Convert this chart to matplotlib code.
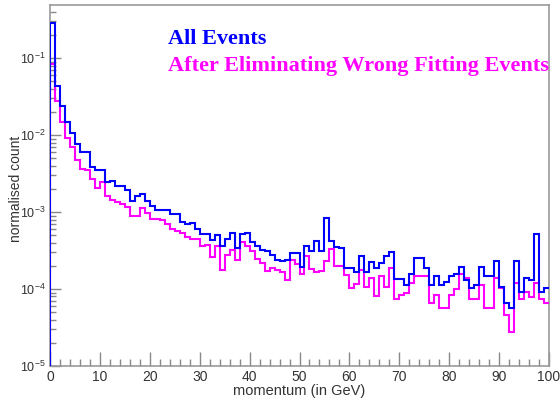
import matplotlib
matplotlib.use('Agg')
import matplotlib.pyplot as plt
import numpy as np
from matplotlib.ticker import LogLocator, MultipleLocator, LogFormatterSciNotation, NullFormatter

plt.rcParams['font.family'] = ['Liberation Sans', 'DejaVu Sans']

# 1 GeV bins from 0 to 100
edges = np.arange(0, 101, 1)

all_events = [
    0.29, 0.044, 0.0236, 0.0146, 0.0108, 0.0076, 0.0060, 0.0060, 0.0039, 0.0035,
    0.0035, 0.00245, 0.0025, 0.00216, 0.00216, 0.00195, 0.00141, 0.0016, 0.0017, 0.00138,
    0.00119, 0.00107, 0.00107, 0.00107, 0.00095, 0.00094, 0.00074, 0.00070, 0.00072, 0.00061,
    0.00052, 0.00052, 0.00044, 0.00051, 0.00036, 0.00045, 0.00054, 0.00034, 0.00052, 0.00054,
    0.00041, 0.00036, 0.00032, 0.00031, 0.00028, 0.00024, 0.00023, 0.00024, 0.00029, 0.00029,
    1.95e-4, 3.67e-4, 3.13e-4, 4.2e-4, 3.13e-4, 8.4e-4, 4.2e-4, 3.56e-4, 3.46e-4, 1.85e-4,
    1.85e-4, 1.68e-4, 2.72e-4, 1.68e-4, 2.27e-4, 1.85e-4, 2.16e-4, 2.72e-4, 3.06e-4, 1.37e-4,
    1.37e-4, 1.12e-4, 1.55e-4, 2.56e-4, 2.51e-4, 1.85e-4, 1.12e-4, 1.49e-4, 1.12e-4, 1.24e-4,
    1.49e-4, 1.55e-4, 1.93e-4, 1.31e-4, 1.04e-4, 1.12e-4, 1.93e-4, 1.49e-4, 1.49e-4, 2.34e-4,
    1.07e-4, 6.5e-5, 5.6e-5, 2.34e-4, 9.2e-5, 1.40e-4, 1.31e-4, 5.2e-4, 9.2e-5, 1.02e-4,
]

after_cut = [
    0.084, 0.028, 0.0146, 0.0093, 0.0069, 0.0048, 0.0036, 0.0035, 0.00265, 0.00206,
    0.00244, 0.0016, 0.00145, 0.00134, 0.00128, 0.00116, 0.00088, 0.00088, 0.00113, 0.00097,
    0.00081, 0.00081, 0.00078, 0.00071, 0.00061, 0.00057, 0.00054, 0.00047, 0.00045, 0.00045,
    0.00036, 0.00037, 0.00026, 0.00036, 0.000177, 0.00028, 0.00032, 0.00024, 0.00041, 0.00036,
    0.00031, 0.000245, 0.000215, 0.000171, 0.000189, 0.000177, 0.000164, 0.000131, 0.00024, 0.00021,
    1.55e-4, 2.72e-4, 1.82e-4, 1.68e-4, 1.71e-4, 2.31e-4, 3.32e-4, 2.01e-4, 2.01e-4, 1.52e-4,
    1.04e-4, 1.15e-4, 1.77e-4, 1.07e-4, 1.40e-4, 8.15e-5, 1.49e-4, 1.07e-4, 1.89e-4, 7.5e-5,
    8.3e-5, 8.75e-5, 1.18e-4, 1.49e-4, 1.49e-4, 1.49e-4, 6.5e-5, 8.3e-5, 5.6e-5, 5.6e-5,
    8.3e-5, 1.0e-4, 1.55e-4, 1.40e-4, 7.5e-5, 7.5e-5, 1.12e-4, 5.6e-5, 5.6e-5, 1.40e-4,
    1.04e-4, 4.65e-5, 2.76e-5, 1.18e-4, 7.5e-5, 9.2e-5, 7.9e-5, 1.18e-4, 7.5e-5, 6.5e-5,
]

label_all = 'All Events'
label_cut = 'After Eliminating Wrong Fitting Events'

ymin, ymax = 1e-5, 0.49

fig = plt.figure(figsize=(5.6, 3.98), dpi=100)
ax = fig.add_axes([50/560, 32/398, 499/560, 361/398])

# magenta under, blue on top (ROOT style outline histograms)
ax.stairs(after_cut, edges, baseline=None, color='#ff00ff', lw=1.5, zorder=3)
ax.stairs(all_events, edges, baseline=None, color='#0000ff', lw=1.5, zorder=3)
ax.vlines(edges[0], ymin, after_cut[0], color='#ff00ff', lw=1.5, zorder=3)
ax.vlines(edges[0], ymin, all_events[0], color='#0000ff', lw=1.5, zorder=4)

ax.set_yscale('log')
ax.set_xlim(0, 100)
ax.set_ylim(ymin, ymax)

ax.xaxis.set_major_locator(MultipleLocator(10))
ax.xaxis.set_minor_locator(MultipleLocator(2))
ax.yaxis.set_major_locator(LogLocator(base=10, numticks=10))
ax.yaxis.set_minor_locator(LogLocator(base=10, subs=np.arange(2, 10), numticks=20))
ax.yaxis.set_major_formatter(LogFormatterSciNotation())
ax.yaxis.set_minor_formatter(NullFormatter())

ax.tick_params(which='both', direction='in', color='#888888', width=1,
               top=False, right=False, labelcolor='#333333')
ax.tick_params(axis='x', which='major', length=10, labelsize=10, pad=3)
ax.tick_params(axis='x', which='minor', length=5)
ax.tick_params(axis='y', which='major', length=8, labelsize=9, pad=3)
ax.tick_params(axis='y', which='minor', length=4)

for s in ax.spines.values():
    s.set_color('#999999')
    s.set_linewidth(1.2)

ax.set_xlabel('momentum (in GeV)', fontsize=10.5, color='#333333', labelpad=0)
ax.set_ylabel('normalised count', fontsize=10, color='#333333', labelpad=0)
ax.yaxis.set_label_coords(-0.055, 0.49)

fig.text(168/560, 1 - 44/398, label_all, color='#0000ff', fontsize=16,
         fontweight='bold', family='Liberation Serif', va='baseline')
fig.text(168/560, 1 - 71/398, label_cut, color='#ff00ff', fontsize=16,
         fontweight='bold', family='Liberation Serif', va='baseline')

fig.savefig('out.png', dpi=100)
